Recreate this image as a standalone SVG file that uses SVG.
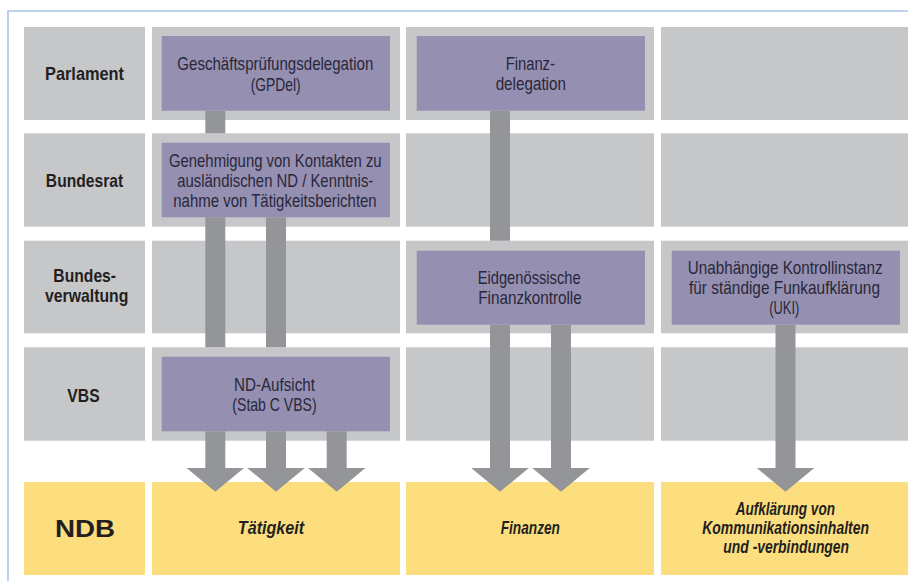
<svg xmlns="http://www.w3.org/2000/svg" width="908" height="581" viewBox="0 0 908 581">
<style>
.cell{fill:#c6c7c9}
.ycell{fill:#fdde7e}
.box{fill:#9590b1}
.t{font-family:"Liberation Sans",Arial,sans-serif;font-size:19px;fill:#29273a;text-anchor:middle}
.lbl{font-family:"Liberation Sans",Arial,sans-serif;font-size:19px;font-weight:bold;fill:#231f20;text-anchor:middle}
.it{font-family:"Liberation Sans",Arial,sans-serif;font-size:18px;font-weight:bold;font-style:italic;fill:#231f20;text-anchor:middle}
.ndb{font-family:"Liberation Sans",Arial,sans-serif;font-size:24px;font-weight:bold;fill:#231f20;text-anchor:middle}
.bar{stroke:#939598;stroke-width:20;fill:none}
.frame{stroke:#a9c5e9;stroke-width:1.6;fill:none}
</style>
<defs>
<marker id="ah" markerUnits="userSpaceOnUse" markerWidth="24" markerHeight="58" viewBox="0 0 24 58" refX="0.5" refY="29" orient="auto">
<path d="M0,0 L24,29 L0,58 Z" fill="#939598"/>
</marker>
</defs>
<rect width="908" height="581" fill="#ffffff"/>
<path class="frame" d="M8,581 L8,11 L908,11"/>

<g id="grid">
<rect class="cell" x="24" y="27" width="121" height="93"/>
<rect class="cell" x="152" y="27" width="248" height="93"/>
<rect class="cell" x="406" y="27" width="248" height="93"/>
<rect class="cell" x="661" y="27" width="247" height="93"/>
<rect class="cell" x="24" y="133.3" width="121" height="93.4"/>
<rect class="cell" x="152" y="133.3" width="248" height="93.4"/>
<rect class="cell" x="406" y="133.3" width="248" height="93.4"/>
<rect class="cell" x="661" y="133.3" width="247" height="93.4"/>
<rect class="cell" x="24" y="240.7" width="121" height="92.6"/>
<rect class="cell" x="152" y="240.7" width="248" height="92.6"/>
<rect class="cell" x="406" y="240.7" width="248" height="92.6"/>
<rect class="cell" x="661" y="240.7" width="247" height="92.6"/>
<rect class="cell" x="24" y="347.3" width="121" height="93.4"/>
<rect class="cell" x="152" y="347.3" width="248" height="93.4"/>
<rect class="cell" x="406" y="347.3" width="248" height="93.4"/>
<rect class="cell" x="661" y="347.3" width="247" height="93.4"/>
<rect class="ycell" x="24" y="482" width="121" height="93"/>
<rect class="ycell" x="152" y="482" width="248" height="93"/>
<rect class="ycell" x="406" y="482" width="248" height="93"/>
<rect class="ycell" x="661" y="482" width="247" height="93"/>
</g>

<g id="row-labels">
<g id="lbl-parlament"><text class="lbl" x="84.5" y="80" textLength="79" lengthAdjust="spacingAndGlyphs">Parlament</text></g>
<g id="lbl-bundesrat"><text class="lbl" x="84.5" y="186.7" textLength="77.3" lengthAdjust="spacingAndGlyphs">Bundesrat</text></g>
<g id="lbl-bundesverwaltung">
<text class="lbl" x="84.7" y="282" textLength="62.7" lengthAdjust="spacingAndGlyphs">Bundes-</text>
<text class="lbl" x="86.7" y="301.5" textLength="83.3" lengthAdjust="spacingAndGlyphs">verwaltung</text>
</g>
<g id="lbl-vbs"><text class="lbl" x="83.5" y="401.5" textLength="32.3" lengthAdjust="spacingAndGlyphs">VBS</text></g>
<g id="lbl-ndb"><text class="ndb" x="85" y="537.3" textLength="60" lengthAdjust="spacingAndGlyphs">NDB</text></g>
</g>

<g id="connectors">
<line class="bar" x1="215.3" y1="110.7" x2="215.3" y2="133.3"/>
<line class="bar" x1="215.3" y1="217.3" x2="215.3" y2="347.3"/>
<line class="bar" x1="276" y1="217.3" x2="276" y2="347.3"/>
<line class="bar" x1="215.3" y1="431.3" x2="215.3" y2="468.3" marker-end="url(#ah)"/>
<line class="bar" x1="276" y1="431.3" x2="276" y2="468.3" marker-end="url(#ah)"/>
<line class="bar" x1="336.7" y1="431.3" x2="336.7" y2="468.3" marker-end="url(#ah)"/>
<line class="bar" x1="500" y1="110.7" x2="500" y2="240.7"/>
<line class="bar" x1="500" y1="324.7" x2="500" y2="468.3" marker-end="url(#ah)"/>
<line class="bar" x1="561" y1="324.7" x2="561" y2="468.3" marker-end="url(#ah)"/>
<line class="bar" x1="785.5" y1="324.7" x2="785.5" y2="468.3" marker-end="url(#ah)"/>
</g>

<g id="gpdel">
<rect class="box" x="161.7" y="36" width="228.3" height="74.7"/>
<text class="t" x="275.3" y="70" textLength="196" lengthAdjust="spacingAndGlyphs">Geschäftsprüfungsdelegation</text>
<text class="t" x="275.7" y="91" textLength="50" lengthAdjust="spacingAndGlyphs">(GPDel)</text>
</g>

<g id="bundesrat-genehmigung">
<rect class="box" x="161.7" y="142.7" width="228.3" height="74.6"/>
<text class="t" x="275.3" y="166.7" textLength="212.7" lengthAdjust="spacingAndGlyphs">Genehmigung von Kontakten zu</text>
<text class="t" x="275.3" y="186.7" textLength="196" lengthAdjust="spacingAndGlyphs">ausländischen ND / Kenntnis-</text>
<text class="t" x="275" y="206.7" textLength="203.4" lengthAdjust="spacingAndGlyphs">nahme von Tätigkeitsberichten</text>
</g>

<g id="findel">
<rect class="box" x="416.7" y="36" width="228.3" height="74.7"/>
<text class="t" x="530.3" y="70" textLength="49.3" lengthAdjust="spacingAndGlyphs">Finanz-</text>
<text class="t" x="530.8" y="89.5" textLength="70.3" lengthAdjust="spacingAndGlyphs">delegation</text>
</g>

<g id="efk">
<rect class="box" x="416.7" y="250.7" width="228.3" height="74"/>
<text class="t" x="529.2" y="284" textLength="103" lengthAdjust="spacingAndGlyphs">Eidgenössische</text>
<text class="t" x="530" y="303.5" textLength="103.4" lengthAdjust="spacingAndGlyphs">Finanzkontrolle</text>
</g>

<g id="uki">
<rect class="box" x="671.7" y="250.7" width="228.3" height="74"/>
<text class="t" x="785.2" y="274" textLength="195" lengthAdjust="spacingAndGlyphs">Unabhängige Kontrollinstanz</text>
<text class="t" x="784.5" y="294" textLength="191" lengthAdjust="spacingAndGlyphs">für ständige Funkaufklärung</text>
<text class="t" x="784.3" y="314" textLength="30" lengthAdjust="spacingAndGlyphs">(UKI)</text>
</g>

<g id="nd-aufsicht">
<rect class="box" x="161.7" y="356.7" width="228.3" height="74.6"/>
<text class="t" x="274.5" y="391" textLength="81" lengthAdjust="spacingAndGlyphs">ND-Aufsicht</text>
<text class="t" x="274.5" y="410.5" textLength="84.3" lengthAdjust="spacingAndGlyphs">(Stab C VBS)</text>
</g>

<g id="ndb-taetigkeit"><text class="it" x="271" y="534" textLength="66.3" lengthAdjust="spacingAndGlyphs">Tätigkeit</text></g>
<g id="ndb-finanzen"><text class="it" x="530.3" y="533.5" textLength="59.3" lengthAdjust="spacingAndGlyphs">Finanzen</text></g>
<g id="ndb-aufklaerung">
<text class="it" x="785.3" y="515" textLength="99.3" lengthAdjust="spacingAndGlyphs">Aufklärung von</text>
<text class="it" x="785.6" y="534" textLength="166.7" lengthAdjust="spacingAndGlyphs">Kommunikationsinhalten</text>
<text class="it" x="786.2" y="553" textLength="125.7" lengthAdjust="spacingAndGlyphs">und -verbindungen</text>
</g>
</svg>
